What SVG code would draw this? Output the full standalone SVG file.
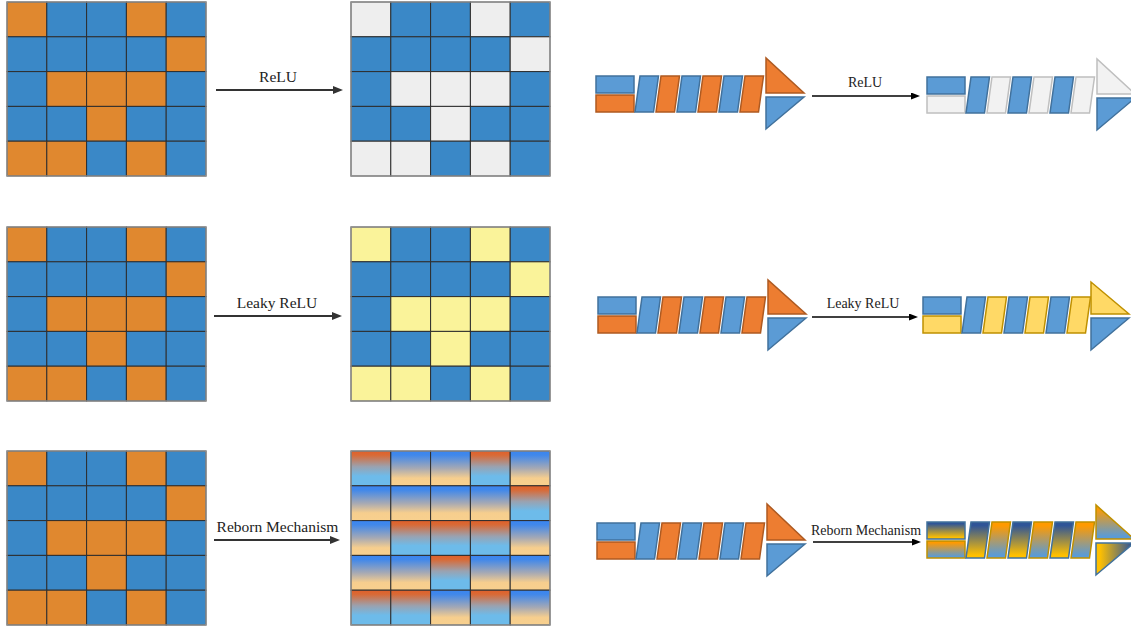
<svg xmlns="http://www.w3.org/2000/svg" width="1131" height="630" viewBox="0 0 1131 630">
<style>
.c{stroke:#2e2e2e;stroke-width:1}
.o{fill:#E0882F}.b{fill:#3A88C7}.g{fill:#EEEEEE}.y{fill:#FAF39A}
.gn{fill:url(#gN)}.gp{fill:url(#gP)}
.frame{fill:none;stroke:#9a9a9a;stroke-width:1.2}
.lbl{font-family:"Liberation Serif","Times New Roman",serif;fill:#222;text-anchor:middle}
.l1{font-size:15.5px}.l2{font-size:14px}
.arL{stroke:#333;stroke-width:2;fill:none}
.arR{stroke:#000;stroke-width:1.5;fill:none}
.sb{fill:#5B9BD5;stroke:#41719C;stroke-width:1.5}
.so{fill:#ED7D31;stroke:#AE5A21;stroke-width:1.5}
.sg{fill:#F2F2F2;stroke:#BFBFBF;stroke-width:1.5}
.sy{fill:#FFD966;stroke:#BF9000;stroke-width:1.5}
.rb{fill:url(#gNG);stroke:#41719C;stroke-width:1.5}
.ro{fill:url(#gOB);stroke:#BF9000;stroke-width:1.5}
.rt{fill:url(#gGN);stroke:#41719C;stroke-width:1.5}
</style>
<defs>
<linearGradient id="gN" x1="0" y1="0" x2="0" y2="1">
<stop offset="0" stop-color="#E0602A"/><stop offset="0.12" stop-color="#D96A36"/><stop offset="0.45" stop-color="#9AA2B0"/><stop offset="0.72" stop-color="#6DBBEA"/><stop offset="1" stop-color="#6DBBEA"/>
</linearGradient>
<linearGradient id="gP" x1="0" y1="0" x2="0" y2="1">
<stop offset="0" stop-color="#3A85F0"/><stop offset="0.12" stop-color="#4188EA"/><stop offset="0.5" stop-color="#A6A9B4"/><stop offset="0.78" stop-color="#F6CE8E"/><stop offset="1" stop-color="#F8D08E"/>
</linearGradient>
<linearGradient id="gNG" x1="0" y1="0" x2="0" y2="1">
<stop offset="0.1" stop-color="#2F5597"/><stop offset="0.92" stop-color="#FFC000"/>
</linearGradient>
<linearGradient id="gOB" x1="0" y1="0" x2="0" y2="1">
<stop offset="0.1" stop-color="#FF9A00"/><stop offset="0.92" stop-color="#5B9BD5"/>
</linearGradient>
<linearGradient id="gGN" x1="0" y1="0" x2="1" y2="0">
<stop offset="0.1" stop-color="#FFC000"/><stop offset="0.95" stop-color="#2F5597"/>
</linearGradient>
<marker id="ahL" markerWidth="10" markerHeight="8" refX="2" refY="4" orient="auto" markerUnits="userSpaceOnUse"><path d="M0,0 L10,4 L0,8 z" fill="#333"/></marker>
<marker id="ahR" markerWidth="9" markerHeight="7" refX="2" refY="3.5" orient="auto" markerUnits="userSpaceOnUse"><path d="M0,0 L9,3.5 L0,7 z" fill="#000"/></marker>
</defs>

<g id="grid-in-1" transform="translate(7,2)">
<rect class="c o" x="0" y="0" width="39.8" height="34.8"/><rect class="c b" x="39.8" y="0" width="39.8" height="34.8"/><rect class="c b" x="79.6" y="0" width="39.8" height="34.8"/><rect class="c o" x="119.4" y="0" width="39.8" height="34.8"/><rect class="c b" x="159.2" y="0" width="39.8" height="34.8"/>
<rect class="c b" x="0" y="34.8" width="39.8" height="34.8"/><rect class="c b" x="39.8" y="34.8" width="39.8" height="34.8"/><rect class="c b" x="79.6" y="34.8" width="39.8" height="34.8"/><rect class="c b" x="119.4" y="34.8" width="39.8" height="34.8"/><rect class="c o" x="159.2" y="34.8" width="39.8" height="34.8"/>
<rect class="c b" x="0" y="69.6" width="39.8" height="34.8"/><rect class="c o" x="39.8" y="69.6" width="39.8" height="34.8"/><rect class="c o" x="79.6" y="69.6" width="39.8" height="34.8"/><rect class="c o" x="119.4" y="69.6" width="39.8" height="34.8"/><rect class="c b" x="159.2" y="69.6" width="39.8" height="34.8"/>
<rect class="c b" x="0" y="104.4" width="39.8" height="34.8"/><rect class="c b" x="39.8" y="104.4" width="39.8" height="34.8"/><rect class="c o" x="79.6" y="104.4" width="39.8" height="34.8"/><rect class="c b" x="119.4" y="104.4" width="39.8" height="34.8"/><rect class="c b" x="159.2" y="104.4" width="39.8" height="34.8"/>
<rect class="c o" x="0" y="139.2" width="39.8" height="34.8"/><rect class="c o" x="39.8" y="139.2" width="39.8" height="34.8"/><rect class="c b" x="79.6" y="139.2" width="39.8" height="34.8"/><rect class="c o" x="119.4" y="139.2" width="39.8" height="34.8"/><rect class="c b" x="159.2" y="139.2" width="39.8" height="34.8"/>
<rect class="frame" x="0" y="0" width="199" height="174"/>
</g>

<g id="grid-out-1" transform="translate(351,2)">
<rect class="c g" x="0" y="0" width="39.8" height="34.8"/><rect class="c b" x="39.8" y="0" width="39.8" height="34.8"/><rect class="c b" x="79.6" y="0" width="39.8" height="34.8"/><rect class="c g" x="119.4" y="0" width="39.8" height="34.8"/><rect class="c b" x="159.2" y="0" width="39.8" height="34.8"/>
<rect class="c b" x="0" y="34.8" width="39.8" height="34.8"/><rect class="c b" x="39.8" y="34.8" width="39.8" height="34.8"/><rect class="c b" x="79.6" y="34.8" width="39.8" height="34.8"/><rect class="c b" x="119.4" y="34.8" width="39.8" height="34.8"/><rect class="c g" x="159.2" y="34.8" width="39.8" height="34.8"/>
<rect class="c b" x="0" y="69.6" width="39.8" height="34.8"/><rect class="c g" x="39.8" y="69.6" width="39.8" height="34.8"/><rect class="c g" x="79.6" y="69.6" width="39.8" height="34.8"/><rect class="c g" x="119.4" y="69.6" width="39.8" height="34.8"/><rect class="c b" x="159.2" y="69.6" width="39.8" height="34.8"/>
<rect class="c b" x="0" y="104.4" width="39.8" height="34.8"/><rect class="c b" x="39.8" y="104.4" width="39.8" height="34.8"/><rect class="c g" x="79.6" y="104.4" width="39.8" height="34.8"/><rect class="c b" x="119.4" y="104.4" width="39.8" height="34.8"/><rect class="c b" x="159.2" y="104.4" width="39.8" height="34.8"/>
<rect class="c g" x="0" y="139.2" width="39.8" height="34.8"/><rect class="c g" x="39.8" y="139.2" width="39.8" height="34.8"/><rect class="c b" x="79.6" y="139.2" width="39.8" height="34.8"/><rect class="c g" x="119.4" y="139.2" width="39.8" height="34.8"/><rect class="c b" x="159.2" y="139.2" width="39.8" height="34.8"/>
<rect class="frame" x="0" y="0" width="199" height="174"/>
</g>

<g id="grid-in-2" transform="translate(7,227)">
<rect class="c o" x="0" y="0" width="39.8" height="34.8"/><rect class="c b" x="39.8" y="0" width="39.8" height="34.8"/><rect class="c b" x="79.6" y="0" width="39.8" height="34.8"/><rect class="c o" x="119.4" y="0" width="39.8" height="34.8"/><rect class="c b" x="159.2" y="0" width="39.8" height="34.8"/>
<rect class="c b" x="0" y="34.8" width="39.8" height="34.8"/><rect class="c b" x="39.8" y="34.8" width="39.8" height="34.8"/><rect class="c b" x="79.6" y="34.8" width="39.8" height="34.8"/><rect class="c b" x="119.4" y="34.8" width="39.8" height="34.8"/><rect class="c o" x="159.2" y="34.8" width="39.8" height="34.8"/>
<rect class="c b" x="0" y="69.6" width="39.8" height="34.8"/><rect class="c o" x="39.8" y="69.6" width="39.8" height="34.8"/><rect class="c o" x="79.6" y="69.6" width="39.8" height="34.8"/><rect class="c o" x="119.4" y="69.6" width="39.8" height="34.8"/><rect class="c b" x="159.2" y="69.6" width="39.8" height="34.8"/>
<rect class="c b" x="0" y="104.4" width="39.8" height="34.8"/><rect class="c b" x="39.8" y="104.4" width="39.8" height="34.8"/><rect class="c o" x="79.6" y="104.4" width="39.8" height="34.8"/><rect class="c b" x="119.4" y="104.4" width="39.8" height="34.8"/><rect class="c b" x="159.2" y="104.4" width="39.8" height="34.8"/>
<rect class="c o" x="0" y="139.2" width="39.8" height="34.8"/><rect class="c o" x="39.8" y="139.2" width="39.8" height="34.8"/><rect class="c b" x="79.6" y="139.2" width="39.8" height="34.8"/><rect class="c o" x="119.4" y="139.2" width="39.8" height="34.8"/><rect class="c b" x="159.2" y="139.2" width="39.8" height="34.8"/>
<rect class="frame" x="0" y="0" width="199" height="174"/>
</g>

<g id="grid-out-2" transform="translate(351,227)">
<rect class="c y" x="0" y="0" width="39.8" height="34.8"/><rect class="c b" x="39.8" y="0" width="39.8" height="34.8"/><rect class="c b" x="79.6" y="0" width="39.8" height="34.8"/><rect class="c y" x="119.4" y="0" width="39.8" height="34.8"/><rect class="c b" x="159.2" y="0" width="39.8" height="34.8"/>
<rect class="c b" x="0" y="34.8" width="39.8" height="34.8"/><rect class="c b" x="39.8" y="34.8" width="39.8" height="34.8"/><rect class="c b" x="79.6" y="34.8" width="39.8" height="34.8"/><rect class="c b" x="119.4" y="34.8" width="39.8" height="34.8"/><rect class="c y" x="159.2" y="34.8" width="39.8" height="34.8"/>
<rect class="c b" x="0" y="69.6" width="39.8" height="34.8"/><rect class="c y" x="39.8" y="69.6" width="39.8" height="34.8"/><rect class="c y" x="79.6" y="69.6" width="39.8" height="34.8"/><rect class="c y" x="119.4" y="69.6" width="39.8" height="34.8"/><rect class="c b" x="159.2" y="69.6" width="39.8" height="34.8"/>
<rect class="c b" x="0" y="104.4" width="39.8" height="34.8"/><rect class="c b" x="39.8" y="104.4" width="39.8" height="34.8"/><rect class="c y" x="79.6" y="104.4" width="39.8" height="34.8"/><rect class="c b" x="119.4" y="104.4" width="39.8" height="34.8"/><rect class="c b" x="159.2" y="104.4" width="39.8" height="34.8"/>
<rect class="c y" x="0" y="139.2" width="39.8" height="34.8"/><rect class="c y" x="39.8" y="139.2" width="39.8" height="34.8"/><rect class="c b" x="79.6" y="139.2" width="39.8" height="34.8"/><rect class="c y" x="119.4" y="139.2" width="39.8" height="34.8"/><rect class="c b" x="159.2" y="139.2" width="39.8" height="34.8"/>
<rect class="frame" x="0" y="0" width="199" height="174"/>
</g>

<g id="grid-in-3" transform="translate(7,451)">
<rect class="c o" x="0" y="0" width="39.8" height="34.8"/><rect class="c b" x="39.8" y="0" width="39.8" height="34.8"/><rect class="c b" x="79.6" y="0" width="39.8" height="34.8"/><rect class="c o" x="119.4" y="0" width="39.8" height="34.8"/><rect class="c b" x="159.2" y="0" width="39.8" height="34.8"/>
<rect class="c b" x="0" y="34.8" width="39.8" height="34.8"/><rect class="c b" x="39.8" y="34.8" width="39.8" height="34.8"/><rect class="c b" x="79.6" y="34.8" width="39.8" height="34.8"/><rect class="c b" x="119.4" y="34.8" width="39.8" height="34.8"/><rect class="c o" x="159.2" y="34.8" width="39.8" height="34.8"/>
<rect class="c b" x="0" y="69.6" width="39.8" height="34.8"/><rect class="c o" x="39.8" y="69.6" width="39.8" height="34.8"/><rect class="c o" x="79.6" y="69.6" width="39.8" height="34.8"/><rect class="c o" x="119.4" y="69.6" width="39.8" height="34.8"/><rect class="c b" x="159.2" y="69.6" width="39.8" height="34.8"/>
<rect class="c b" x="0" y="104.4" width="39.8" height="34.8"/><rect class="c b" x="39.8" y="104.4" width="39.8" height="34.8"/><rect class="c o" x="79.6" y="104.4" width="39.8" height="34.8"/><rect class="c b" x="119.4" y="104.4" width="39.8" height="34.8"/><rect class="c b" x="159.2" y="104.4" width="39.8" height="34.8"/>
<rect class="c o" x="0" y="139.2" width="39.8" height="34.8"/><rect class="c o" x="39.8" y="139.2" width="39.8" height="34.8"/><rect class="c b" x="79.6" y="139.2" width="39.8" height="34.8"/><rect class="c o" x="119.4" y="139.2" width="39.8" height="34.8"/><rect class="c b" x="159.2" y="139.2" width="39.8" height="34.8"/>
<rect class="frame" x="0" y="0" width="199" height="174"/>
</g>

<g id="grid-out-3" transform="translate(351,451)">
<rect class="c gn" x="0" y="0" width="39.8" height="34.8"/><rect class="c gp" x="39.8" y="0" width="39.8" height="34.8"/><rect class="c gp" x="79.6" y="0" width="39.8" height="34.8"/><rect class="c gn" x="119.4" y="0" width="39.8" height="34.8"/><rect class="c gp" x="159.2" y="0" width="39.8" height="34.8"/>
<rect class="c gp" x="0" y="34.8" width="39.8" height="34.8"/><rect class="c gp" x="39.8" y="34.8" width="39.8" height="34.8"/><rect class="c gp" x="79.6" y="34.8" width="39.8" height="34.8"/><rect class="c gp" x="119.4" y="34.8" width="39.8" height="34.8"/><rect class="c gn" x="159.2" y="34.8" width="39.8" height="34.8"/>
<rect class="c gp" x="0" y="69.6" width="39.8" height="34.8"/><rect class="c gn" x="39.8" y="69.6" width="39.8" height="34.8"/><rect class="c gn" x="79.6" y="69.6" width="39.8" height="34.8"/><rect class="c gn" x="119.4" y="69.6" width="39.8" height="34.8"/><rect class="c gp" x="159.2" y="69.6" width="39.8" height="34.8"/>
<rect class="c gp" x="0" y="104.4" width="39.8" height="34.8"/><rect class="c gp" x="39.8" y="104.4" width="39.8" height="34.8"/><rect class="c gn" x="79.6" y="104.4" width="39.8" height="34.8"/><rect class="c gp" x="119.4" y="104.4" width="39.8" height="34.8"/><rect class="c gp" x="159.2" y="104.4" width="39.8" height="34.8"/>
<rect class="c gn" x="0" y="139.2" width="39.8" height="34.8"/><rect class="c gn" x="39.8" y="139.2" width="39.8" height="34.8"/><rect class="c gp" x="79.6" y="139.2" width="39.8" height="34.8"/><rect class="c gn" x="119.4" y="139.2" width="39.8" height="34.8"/><rect class="c gp" x="159.2" y="139.2" width="39.8" height="34.8"/>
<rect class="frame" x="0" y="0" width="199" height="174"/>
</g>

<g id="seq-in-1" transform="translate(596,76)">
<rect class="sb" x="0" y="0" width="38" height="17"/><rect class="so" x="0" y="19" width="38" height="17"/>
<polygon class="sb" points="44,0 62.5,0 57.5,36 39,36"/><polygon class="so" points="65,0 83.5,0 78.5,36 60,36"/><polygon class="sb" points="86,0 104.5,0 99.5,36 81,36"/><polygon class="so" points="107,0 125.5,0 120.5,36 102,36"/><polygon class="sb" points="128,0 146.5,0 141.5,36 123,36"/><polygon class="so" points="149,0 167.5,0 162.5,36 144,36"/>
<polygon class="so" points="170,-18 170,17 208,17"/><polygon class="sb" points="170,21 208,21 170,53"/>
</g>
<g id="seq-out-1" transform="translate(927,77)">
<rect class="sb" x="0" y="0" width="38" height="17"/><rect class="sg" x="0" y="19" width="38" height="17"/>
<polygon class="sb" points="44,0 62.5,0 57.5,36 39,36"/><polygon class="sg" points="65,0 83.5,0 78.5,36 60,36"/><polygon class="sb" points="86,0 104.5,0 99.5,36 81,36"/><polygon class="sg" points="107,0 125.5,0 120.5,36 102,36"/><polygon class="sb" points="128,0 146.5,0 141.5,36 123,36"/><polygon class="sg" points="149,0 167.5,0 162.5,36 144,36"/>
<polygon class="sg" points="170,-18 170,17 208,17"/><polygon class="sb" points="170,21 208,21 170,53"/>
</g>

<g id="seq-in-2" transform="translate(598,297)">
<rect class="sb" x="0" y="0" width="38" height="17"/><rect class="so" x="0" y="19" width="38" height="17"/>
<polygon class="sb" points="44,0 62.5,0 57.5,36 39,36"/><polygon class="so" points="65,0 83.5,0 78.5,36 60,36"/><polygon class="sb" points="86,0 104.5,0 99.5,36 81,36"/><polygon class="so" points="107,0 125.5,0 120.5,36 102,36"/><polygon class="sb" points="128,0 146.5,0 141.5,36 123,36"/><polygon class="so" points="149,0 167.5,0 162.5,36 144,36"/>
<polygon class="so" points="170,-17 170,17 208,17"/><polygon class="sb" points="170,21 208,21 170,53"/>
</g>
<g id="seq-out-2" transform="translate(923,297)">
<rect class="sb" x="0" y="0" width="38" height="17"/><rect class="sy" x="0" y="19" width="38" height="17"/>
<polygon class="sb" points="44,0 62.5,0 57.5,36 39,36"/><polygon class="sy" points="65,0 83.5,0 78.5,36 60,36"/><polygon class="sb" points="86,0 104.5,0 99.5,36 81,36"/><polygon class="sy" points="107,0 125.5,0 120.5,36 102,36"/><polygon class="sb" points="128,0 146.5,0 141.5,36 123,36"/><polygon class="sy" points="149,0 167.5,0 162.5,36 144,36"/>
<polygon class="sy" points="168,-15 168,17 206,17"/><polygon class="sb" points="168,21 206,21 168,53"/>
</g>

<g id="seq-in-3" transform="translate(597,523)">
<rect class="sb" x="0" y="0" width="38" height="17"/><rect class="so" x="0" y="19" width="38" height="17"/>
<polygon class="sb" points="44,0 62.5,0 57.5,36 39,36"/><polygon class="so" points="65,0 83.5,0 78.5,36 60,36"/><polygon class="sb" points="86,0 104.5,0 99.5,36 81,36"/><polygon class="so" points="107,0 125.5,0 120.5,36 102,36"/><polygon class="sb" points="128,0 146.5,0 141.5,36 123,36"/><polygon class="so" points="149,0 167.5,0 162.5,36 144,36"/>
<polygon class="so" points="170,-19 170,17 208,17"/><polygon class="sb" points="170,21 208,21 170,53"/>
</g>
<g id="seq-out-3" transform="translate(927,522)">
<rect class="rb" x="0" y="0" width="38" height="17"/><rect class="ro" x="0" y="19" width="38" height="17"/>
<polygon class="rb" points="44,0 62.5,0 57.5,36 39,36"/><polygon class="ro" points="65,0 83.5,0 78.5,36 60,36"/><polygon class="rb" points="86,0 104.5,0 99.5,36 81,36"/><polygon class="ro" points="107,0 125.5,0 120.5,36 102,36"/><polygon class="rb" points="128,0 146.5,0 141.5,36 123,36"/><polygon class="ro" points="149,0 167.5,0 162.5,36 144,36"/>
<polygon class="ro" points="169,-17 169,17 207,17"/><polygon class="rt" points="169,21 207,21 169,53"/>
</g>

<g id="connectors">
<line class="arL" x1="216" y1="90" x2="335" y2="90" marker-end="url(#ahL)"/>
<line class="arL" x1="214" y1="316" x2="334" y2="316" marker-end="url(#ahL)"/>
<line class="arL" x1="214" y1="540" x2="332" y2="540" marker-end="url(#ahL)"/>
<line class="arR" x1="812" y1="96" x2="913" y2="96" marker-end="url(#ahR)"/>
<line class="arR" x1="812" y1="317" x2="911" y2="317" marker-end="url(#ahR)"/>
<line class="arR" x1="813" y1="542" x2="914" y2="542" marker-end="url(#ahR)"/>
<text class="lbl l1" x="278" y="82">ReLU</text>
<text class="lbl l1" x="277" y="308">Leaky ReLU</text>
<text class="lbl l1" x="277.5" y="532">Reborn Mechanism</text>
<text class="lbl l2" x="865" y="87">ReLU</text>
<text class="lbl l2" x="863" y="308">Leaky ReLU</text>
<text class="lbl l2" x="866" y="535">Reborn Mechanism</text>
</g>
</svg>
